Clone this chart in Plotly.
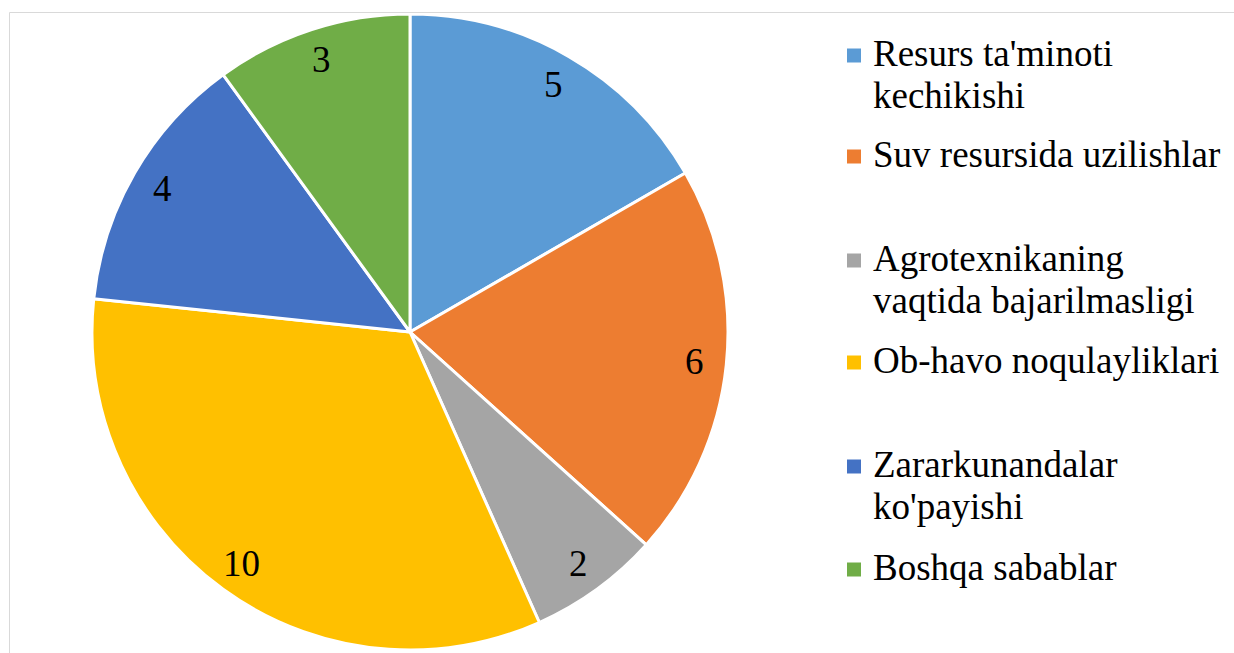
import math
import plotly.graph_objects as go

# Causes and their counts
categories = [
    "Resurs ta'minoti kechikishi",
    "Suv resursida uzilishlar",
    "Agrotexnikaning vaqtida bajarilmasligi",
    "Ob-havo noqulayliklari",
    "Zararkunandalar ko'payishi",
    "Boshqa sabablar",
]
legend_lines = [
    ["Resurs ta'minoti", "kechikishi"],
    ["Suv resursida uzilishlar"],
    ["Agrotexnikaning", "vaqtida bajarilmasligi"],
    ["Ob-havo noqulayliklari"],
    ["Zararkunandalar", "ko'payishi"],
    ["Boshqa sabablar"],
]
values = [5, 6, 2, 10, 4, 3]
colors = ["#5B9BD5", "#ED7D31", "#A5A5A5", "#FFC000", "#4472C4", "#70AD47"]

W, H = 1234, 653
FONT = "Liberation Serif"
FS = 37

# Pie geometry in pixels
cx, cy, R = 410, 332, 318
dom_x = [(cx - R) / W, (cx + R) / W]
dom_y = [1 - (cy + R) / H, 1 - (cy - R) / H]

fig = go.Figure(
    go.Pie(
        labels=categories,
        values=values,
        marker=dict(colors=colors, line=dict(color="white", width=3)),
        sort=False,
        direction="clockwise",
        rotation=0,
        textinfo="none",
        hoverinfo="label+value",
        showlegend=False,
        domain=dict(x=dom_x, y=dom_y),
    )
)

annotations = []

# Value labels placed along each slice's middle angle
total = sum(values)
cum = 0
for v in values:
    mid = (cum + v / 2) / total * 2 * math.pi
    cum += v
    px = cx + 0.9 * R * math.sin(mid)
    py = cy - 0.9 * R * math.cos(mid)
    annotations.append(dict(
        x=px / W, y=1 - py / H, xref="paper", yref="paper",
        text=str(v), showarrow=False, xanchor="center", yanchor="middle",
        font=dict(family=FONT, size=FS, color="black"),
    ))

# Legend: square swatches plus one text line per annotation
shapes = []
first_baselines = [66, 167, 271, 373, 477, 580]
LINE_GAP = 42
for lines, col, base in zip(legend_lines, colors, first_baselines):
    mc = base - 10.5
    shapes.append(dict(
        type="rect", xref="paper", yref="paper",
        x0=847 / W, x1=861 / W, y0=1 - (mc + 7) / H, y1=1 - (mc - 7) / H,
        fillcolor=col, line=dict(width=0),
    ))
    for i, line in enumerate(lines):
        b = base + i * LINE_GAP
        annotations.append(dict(
            x=871 / W, y=1 - (b - 12.5) / H, xref="paper", yref="paper",
            text=line, showarrow=False, xanchor="left", yanchor="middle",
            align="left", font=dict(family=FONT, size=FS, color="black"),
        ))

# Chart-area border
shapes.append(dict(
    type="rect", xref="paper", yref="paper",
    x0=9.5 / W, x1=1.02, y0=-0.02, y1=1 - 12.5 / H,
    line=dict(color="#D9D9D9", width=1), fillcolor="rgba(0,0,0,0)",
))

fig.update_layout(
    width=W, height=H,
    margin=dict(l=0, r=0, t=0, b=0),
    paper_bgcolor="white",
    plot_bgcolor="white",
    annotations=annotations,
    shapes=shapes,
)

fig.write_html("out.html")
